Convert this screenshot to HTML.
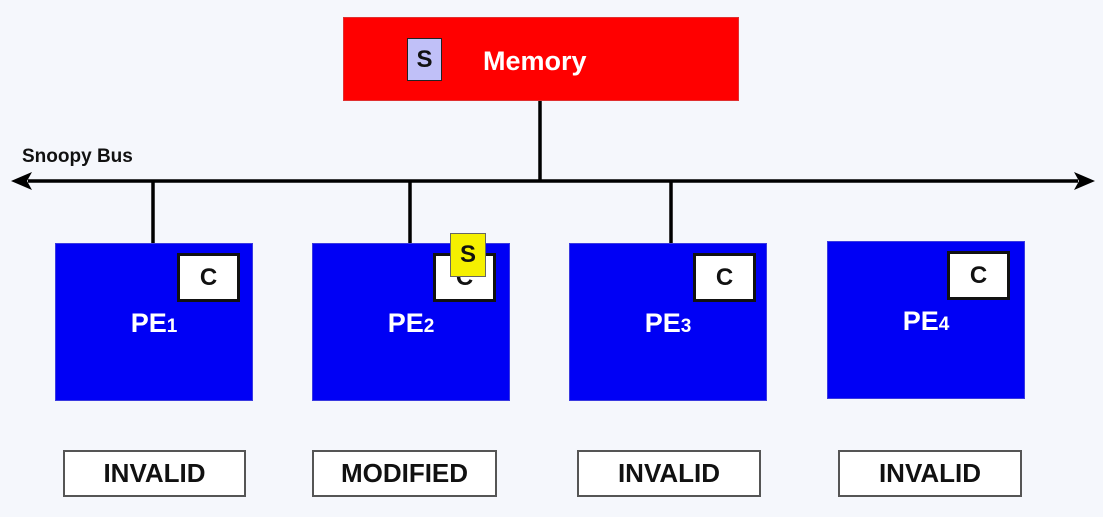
<!DOCTYPE html>
<html><head><style>
body{margin:0;width:1103px;height:517px;background:#f5f7fc;position:relative;overflow:hidden;font-family:"Liberation Sans",sans-serif;font-weight:bold}
div{position:absolute;box-sizing:border-box}
.pe{background:#0000f5;border:1px solid #3a3ae0}
.c{background:#fff;border:3px solid #111;color:#111;font-size:24px;text-align:center;line-height:43px}
.lab{color:#fff;font-size:27px;text-align:center;width:100%;top:64px}
.lab small{font-size:19px}
.st{background:#fff;border:2px solid #555;font-size:26px;text-align:center;line-height:43px;color:#111;height:47px;top:450px}
</style></head><body>
<svg width="1103" height="517" style="position:absolute;left:0;top:0">
<line x1="28" y1="181" x2="1078" y2="181" stroke="#000" stroke-width="3.5"/>
<polygon points="11,181 32,172 27,181 32,190" fill="#000"/>
<polygon points="1095,181 1074,172 1079,181 1074,190" fill="#000"/>
<line x1="540" y1="100" x2="540" y2="181" stroke="#000" stroke-width="3.5"/>
<line x1="153" y1="181" x2="153" y2="244" stroke="#000" stroke-width="3.5"/>
<line x1="410" y1="181" x2="410" y2="244" stroke="#000" stroke-width="3.5"/>
<line x1="671" y1="181" x2="671" y2="244" stroke="#000" stroke-width="3.5"/>
<path d="M384 495 q4 -4 12 -5" stroke="#e02020" stroke-width="3" fill="none"/>
<path d="M151 483 l2 4" stroke="#e02020" stroke-width="3" fill="none"/>
</svg>
<div style="left:343px;top:17px;width:396px;height:84px;background:#ff0000;border:1px solid #e03030"></div>
<div style="left:407px;top:38px;width:35px;height:43px;background:#c0c0f8;border:1px solid #222;color:#111;font-size:24px;text-align:center;line-height:41px">S</div>
<div style="left:483px;top:46px;color:#fff;font-size:27px">Memory</div>
<div style="left:22px;top:146px;font-size:19px;color:#111">Snoopy Bus</div>

<div class="pe" style="left:55px;top:243px;width:198px;height:158px"><div class="lab">PE<small>1</small></div></div>
<div class="c" style="left:177px;top:253px;width:63px;height:49px">C</div>
<div class="pe" style="left:312px;top:243px;width:198px;height:158px"><div class="lab">PE<small>2</small></div></div>
<div class="c" style="left:433px;top:253px;width:63px;height:49px">C</div>
<div style="left:450px;top:233px;width:36px;height:44px;background:#f5f000;border:1px solid #666;color:#111;font-size:24px;text-align:center;line-height:42px">S</div>
<div class="pe" style="left:569px;top:243px;width:198px;height:158px"><div class="lab">PE<small>3</small></div></div>
<div class="c" style="left:693px;top:253px;width:63px;height:49px">C</div>
<div class="pe" style="left:827px;top:241px;width:198px;height:158px"><div class="lab">PE<small>4</small></div></div>
<div class="c" style="left:947px;top:251px;width:63px;height:49px">C</div>

<div class="st" style="left:63px;width:183px">INVALID</div>
<div class="st" style="left:312px;width:185px">MODIFIED</div>
<div class="st" style="left:577px;width:184px">INVALID</div>
<div class="st" style="left:838px;width:184px">INVALID</div>
</body></html>
